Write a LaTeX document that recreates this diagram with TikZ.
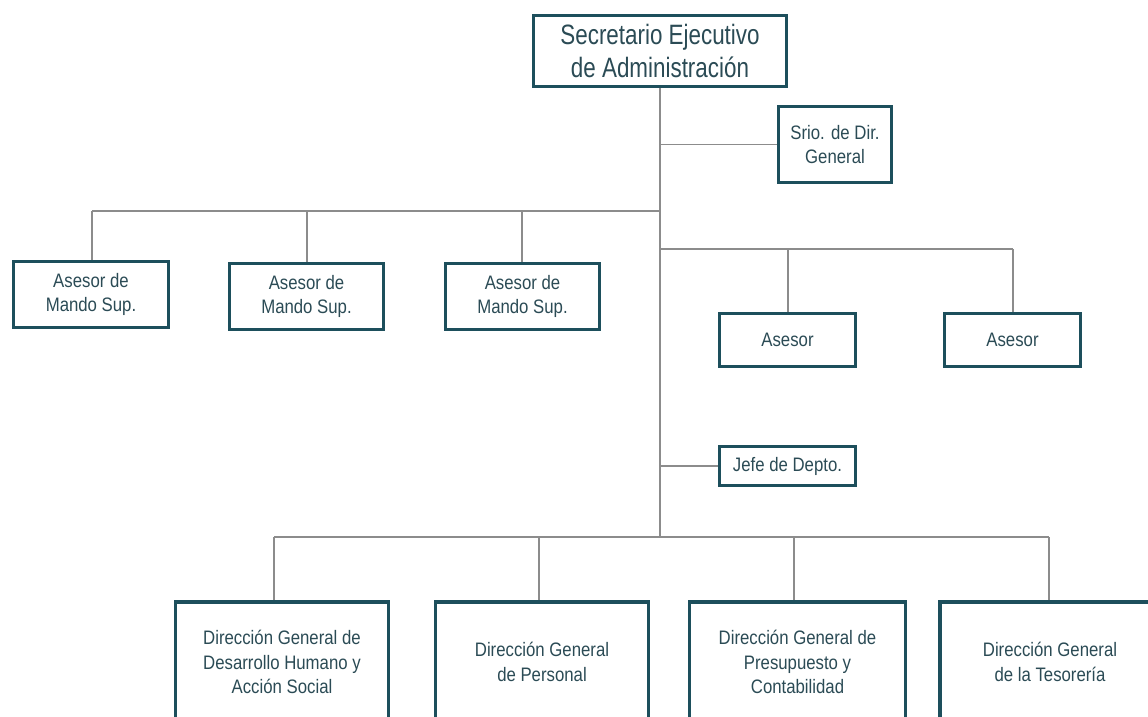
\documentclass[tikz,border=0pt]{standalone}
\usepackage{fontspec}
\setmainfont{Liberation Sans}
\newfontfamily\topfont[FakeStretch=0.80]{Liberation Sans}
\newfontfamily\boxfont[FakeStretch=0.86]{Liberation Sans}
\definecolor{boxcol}{HTML}{1D4F5C}
\definecolor{txtcol}{HTML}{2B4B55}
\definecolor{linecol}{HTML}{8C8C8C}
\begin{document}
\begin{tikzpicture}[x=1pt,y=-1pt,
  orgbox/.style={draw=boxcol, line width=3.2pt, fill=white, text=txtcol, align=center, inner sep=0pt,
     font=\boxfont\fontsize{19.5}{24.5}\selectfont},
  topbox/.style={orgbox, font=\topfont\fontsize{28}{33}\selectfont},
  conn/.style={draw=linecol, line width=1.1pt}]
\useasboundingbox (0,0) rectangle (1148,717);
\clip (0,0) rectangle (1148,717);
\fill[white] (0,0) rectangle (1148,717);

% nodes
\node[topbox, minimum width=253pt, minimum height=71pt] (top) at (660,51) {Secretario Ejecutivo\\de Administración};
\node[orgbox, minimum width=113pt, minimum height=76pt] (srio) at (835,144.5) {Srio. de Dir.\\General};
\node[orgbox, minimum width=155pt, minimum height=66pt] (m1) at (91,294.5) {Asesor de\\Mando Sup.};
\node[orgbox, minimum width=154pt, minimum height=66pt] (m2) at (306.5,296.5) {Asesor de\\Mando Sup.};
\node[orgbox, minimum width=154pt, minimum height=66pt] (m3) at (522.5,296.5) {Asesor de\\Mando Sup.};
\node[orgbox, minimum width=136pt, minimum height=53pt] (a1) at (787.5,340) {Asesor};
\node[orgbox, minimum width=136pt, minimum height=53pt] (a2) at (1012.5,340) {Asesor};
\node[orgbox, minimum width=136pt, minimum height=39pt] (jefe) at (787.5,466) {Jefe de Depto.};
\node[orgbox, minimum width=213pt, minimum height=120pt] (d1) at (282,662) {Dirección General de\\Desarrollo Humano y\\Acción Social};
\node[orgbox, minimum width=213pt, minimum height=120pt] (d2) at (542,662) {Dirección General\\de Personal};
\node[orgbox, minimum width=216pt, minimum height=120pt] (d3) at (797.5,662) {Dirección General de\\Presupuesto y\\Contabilidad};
\node[orgbox, minimum width=220pt, minimum height=120pt] (d4) at (1050,662) {Dirección General\\de la Tesorería};

% bus coordinates
\coordinate (bmando) at (660,211);
\coordinate (bases) at (660,249);
\coordinate (bdir) at (660,537);
\coordinate (jm1) at (92,211);
\coordinate (jm2) at (307,211);
\coordinate (jm3) at (522,211);
\coordinate (ja1) at (788,249);
\coordinate (ja2) at (1013,249);
\coordinate (jd1) at (274,537);
\coordinate (jd2) at (539,537);
\coordinate (jd3) at (794,537);
\coordinate (jd4) at (1049,537);

% connectors
\begin{scope}[on background layer/.style={}]
\draw[conn] (top.south) -- (bdir);
\draw[conn] (top.south |- srio.west) -- (srio.west);
\draw[conn] (bmando) -- (jm1);
\draw[conn] (jm1) -- (jm1 |- m1.north);
\draw[conn] (jm2) -- (jm2 |- m2.north);
\draw[conn] (jm3) -- (jm3 |- m3.north);
\draw[conn] (bases) -- (ja2);
\draw[conn] (ja1) -- (ja1 |- a1.north);
\draw[conn] (ja2) -- (ja2 |- a2.north);
\draw[conn] (top.south |- jefe.west) -- (jefe.west);
\draw[conn] (jd1) -- (jd4);
\draw[conn] (jd1) -- (jd1 |- d1.north);
\draw[conn] (jd2) -- (jd2 |- d2.north);
\draw[conn] (jd3) -- (jd3 |- d3.north);
\draw[conn] (jd4) -- (jd4 |- d4.north);
\end{scope}
\end{tikzpicture}
\end{document}
